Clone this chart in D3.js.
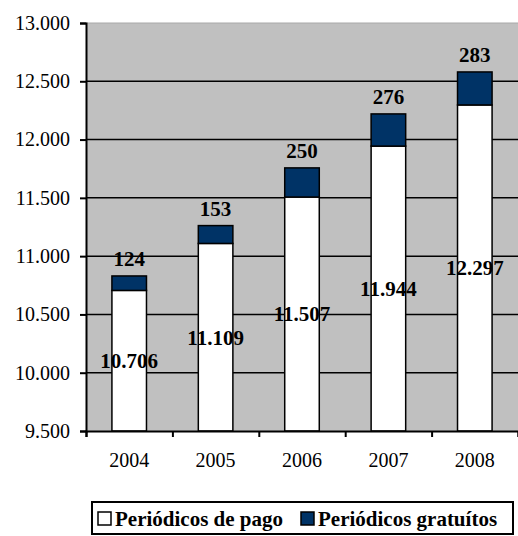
<!DOCTYPE html>
<html>
<head>
<meta charset="utf-8">
<script src="https://cdn.jsdelivr.net/npm/d3@7"></script>
<style>
  html, body { margin: 0; padding: 0; background: #fff; }
  svg { display: block; font-family: "Liberation Serif", "Times New Roman", serif; }
</style>
</head>
<body>
<svg id="chart" width="518" height="536"></svg>
<script>
// data
const years = ["2004", "2005", "2006", "2007", "2008"];
const paid = [10706, 11109, 11507, 11944, 12297];
const free = [124, 153, 250, 276, 283];
const yTicks = [9500, 10000, 10500, 11000, 11500, 12000, 12500, 13000];
const seriesNames = ["Periódicos de pago", "Periódicos gratuítos"];
const seriesColors = ["#ffffff", "#003366"];

const svg = d3.select("#chart");
const plotL = 86, plotR = 518, plotT = 23, plotB = 431;
const serif = "Liberation Serif";

const x = d3.scaleBand().domain(years).range([plotL, plotR]).paddingInner(0.6).paddingOuter(0.3);
const y = d3.scaleLinear().domain([9500, 13000]).range([plotB, plotT]);
const fmt = d3.formatLocale({ decimal: ",", thousands: ".", grouping: [3], currency: ["", ""] }).format(",");

// plot background
svg.append("rect")
    .attr("x", plotL).attr("y", plotT)
    .attr("width", plotR - plotL).attr("height", plotB - plotT)
    .attr("fill", "#c0c0c0");
svg.append("line")
    .attr("x1", plotL).attr("x2", plotR).attr("y1", plotT).attr("y2", plotT)
    .attr("stroke", "#a8a8a8").attr("stroke-width", 1);

// gridlines
svg.append("g").selectAll("line")
    .data(yTicks.filter(d => d > 9500 && d < 13000))
    .join("line")
    .attr("x1", plotL).attr("x2", plotR)
    .attr("y1", d => y(d)).attr("y2", d => y(d))
    .attr("stroke", "#000").attr("stroke-width", 1.5);

// stacked bars
const bars = svg.append("g");
years.forEach((yr, i) => {
    const x0 = x(yr), w = x.bandwidth();
    bars.append("rect")
        .attr("x", x0).attr("width", w)
        .attr("y", y(paid[i])).attr("height", y(9500) - y(paid[i]))
        .attr("fill", seriesColors[0]).attr("stroke", "#000").attr("stroke-width", 1.5);
    bars.append("rect")
        .attr("x", x0).attr("width", w)
        .attr("y", y(paid[i] + free[i])).attr("height", y(paid[i]) - y(paid[i] + free[i]))
        .attr("fill", seriesColors[1]).attr("stroke", "#000").attr("stroke-width", 1.5);
});

// y axis
const yAxis = svg.append("g")
    .attr("transform", `translate(${plotL},0)`)
    .call(d3.axisLeft(y).tickValues(yTicks).tickSize(6).tickPadding(10).tickFormat(fmt))
    .attr("font-family", serif);
yAxis.select(".domain").attr("stroke", "#000").attr("stroke-width", 2);
yAxis.selectAll(".tick line").attr("stroke", "#000").attr("stroke-width", 2);
yAxis.selectAll(".tick text").attr("font-size", 20).attr("fill", "#000");

// x axis: ticks between categories, labels at centers
const xb = d3.scaleLinear().domain([0, years.length]).range([plotL, plotR]);
const xAxis = svg.append("g")
    .attr("transform", `translate(0,${plotB})`)
    .call(d3.axisBottom(xb).ticks(years.length).tickSize(6).tickFormat(""));
xAxis.select(".domain").attr("stroke", "#000").attr("stroke-width", 2);
xAxis.selectAll(".tick line").attr("stroke", "#000").attr("stroke-width", 2);

const xLab = svg.append("g")
    .attr("transform", `translate(0,${plotB})`)
    .call(d3.axisBottom(x).tickSize(0).tickPadding(22))
    .attr("font-family", serif);
xLab.select(".domain").remove();
xLab.selectAll(".tick text").attr("font-size", 20).attr("fill", "#000");

// value labels
const labels = svg.append("g")
    .attr("font-family", serif)
    .attr("font-weight", "bold").attr("font-size", 21)
    .attr("text-anchor", "middle").attr("fill", "#000");
years.forEach((yr, i) => {
    const cx = x(yr) + x.bandwidth() / 2;
    labels.append("text")
        .attr("x", cx).attr("y", (y(9500) + y(paid[i])) / 2)
        .attr("dy", "0.35em").text(fmt(paid[i]));
    labels.append("text")
        .attr("x", cx).attr("y", y(paid[i] + free[i]) - 17)
        .attr("dy", "0.35em").text(fmt(free[i]));
});

// legend
const lg = svg.append("g").attr("font-family", serif);
lg.append("rect")
    .attr("x", 92).attr("y", 502).attr("width", 421).attr("height", 32)
    .attr("fill", "#fff").attr("stroke", "#000").attr("stroke-width", 2);
const legendX = [98, 301];
seriesNames.forEach((name, i) => {
    lg.append("rect")
        .attr("x", legendX[i]).attr("y", 512).attr("width", 13).attr("height", 13)
        .attr("fill", seriesColors[i]).attr("stroke", "#000").attr("stroke-width", 1.5);
    lg.append("text")
        .attr("x", legendX[i] + 17).attr("y", 518.5).attr("dy", "0.35em")
        .attr("font-weight", "bold").attr("font-size", 21)
        .text(name);
});
</script>
</body>
</html>
